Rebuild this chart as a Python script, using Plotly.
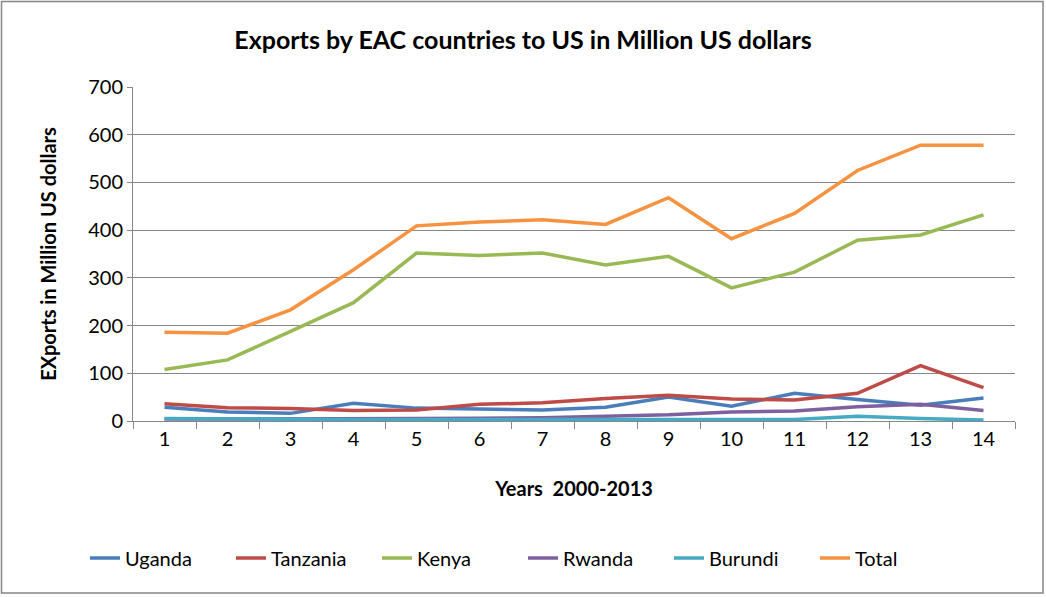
import plotly.graph_objects as go

years = [str(i) for i in range(1, 15)]
uganda = [29, 19, 16, 37, 27, 25, 23, 29, 50, 31, 58, 45, 33, 48]
tanzania = [36, 28, 26, 22, 23, 35, 38, 47, 54, 46, 44, 58, 116, 70]
kenya = [108, 128, 188, 248, 352, 347, 352, 327, 345, 279, 312, 379, 390, 432]
rwanda = [4, 4, 4, 5, 5, 6, 7, 10, 13, 19, 21, 30, 35, 22]
burundi = [5, 4, 3, 3, 3, 3, 3, 3, 3, 3, 3, 10, 5, 2]
total = [186, 184, 233, 317, 409, 417, 422, 412, 468, 382, 435, 525, 578, 578]

series = [
    ("Uganda", uganda, "#4A7EBB"),
    ("Tanzania", tanzania, "#BE4B48"),
    ("Kenya", kenya, "#98B954"),
    ("Rwanda", rwanda, "#7D60A0"),
    ("Burundi", burundi, "#46AAC5"),
    ("Total", total, "#F69240"),
]

fig = go.Figure()
for name, vals, col in series:
    fig.add_trace(go.Scatter(x=years, y=vals, name=name, mode="lines",
                             line=dict(color=col, width=3.5)))

FONT = "Lato, Open Sans, sans-serif"
L, R, T, B = 133, 31, 87, 176
W, H = 1046, 597
pw, ph = W - L - R, H - T - B

def px_x(p):
    return (p - L) / pw

def px_y(p):
    return (H - B - p) / ph

fig.update_layout(
    width=W, height=H,
    margin=dict(l=L, r=R, t=T, b=B),
    paper_bgcolor="white", plot_bgcolor="white",
    font=dict(family=FONT, size=20, color="#000"),
    title=dict(text="<b>Exports by EAC countries to US in Million US dollars</b>",
               x=0.5, xanchor="center", y=1 - 40 / H, yanchor="middle",
               font=dict(size=25, family=FONT)),
    showlegend=True,
    legend=dict(orientation="h", x=0.5, xanchor="center", xref="container",
                y=1 - 558 / H, yref="container", yanchor="middle",
                font=dict(size=20, family=FONT), entrywidth=101,
                entrywidthmode="pixels", traceorder="normal"),
    xaxis=dict(type="category", tickson="boundaries", ticks="outside",
               range=[-0.5, 13.5],
               ticklen=7, tickcolor="#868686", showline=True, linecolor="#868686",
               linewidth=1, showgrid=False,
               title=dict(text="<b>Years  2000-2013</b>", font=dict(size=20, family=FONT),
                          standoff=32)),
    yaxis=dict(range=[0, 700], tickvals=[0, 100, 200, 300, 400, 500, 600, 700],
               ticks="outside", ticklen=5, tickcolor="#868686", showline=True,
               linecolor="#868686", showgrid=True, gridcolor="#868686", gridwidth=1,
               zeroline=False,
               title=dict(text="<b>EXports in Million US dollars</b>",
                          font=dict(size=20, family=FONT), standoff=26)),
    shapes=[dict(type="rect", xref="paper", yref="paper",
                 x0=px_x(1.5), x1=px_x(1043), y0=px_y(593), y1=px_y(1.5),
                 line=dict(color="#868686", width=1.5), layer="below")],
)

fig.write_html("out.html")
